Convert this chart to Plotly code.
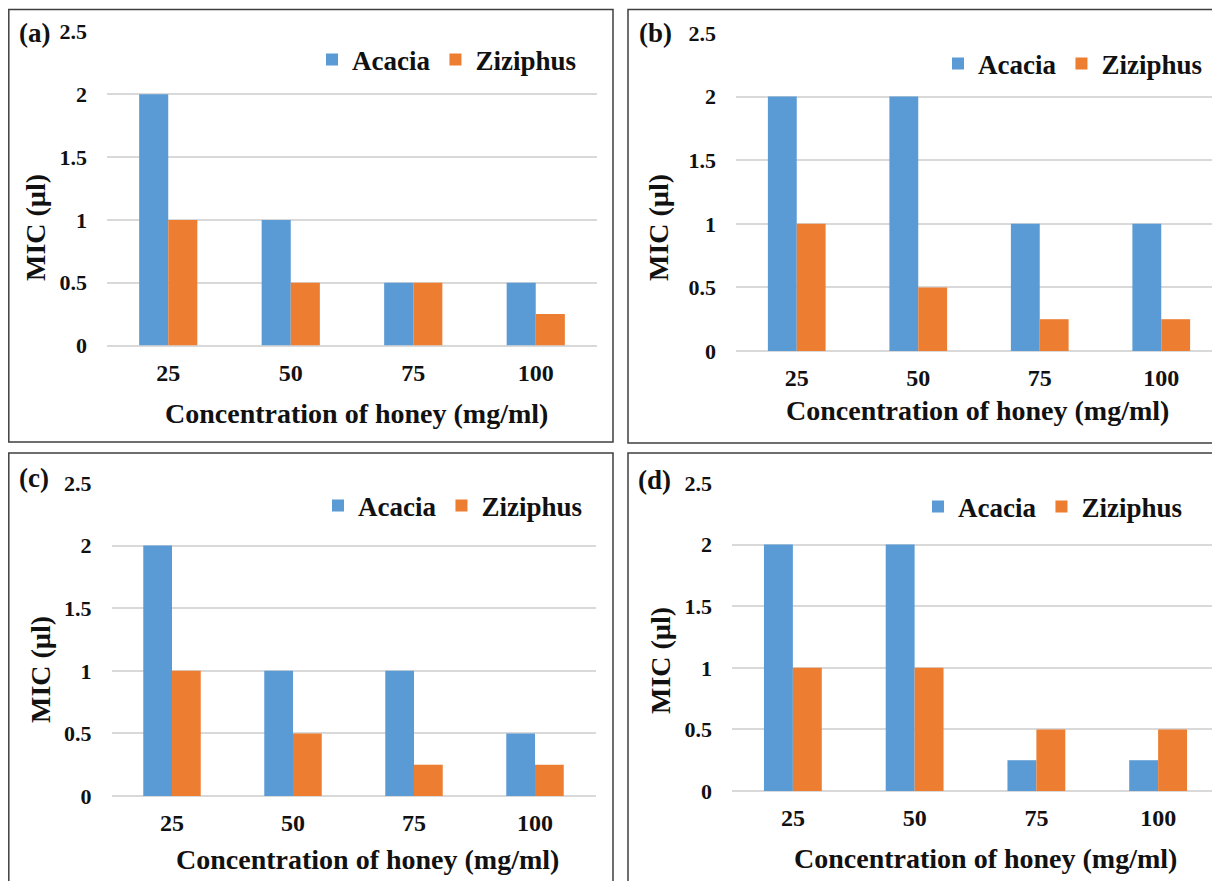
import plotly.graph_objects as go

W, H = 1220, 881
OFF = 8  # default page body margin of the written html

# ---------------- data ----------------
categories = ["25", "50", "75", "100"]
series_names = ["Acacia", "Ziziphus"]

acacia_a = [2, 1, 0.5, 0.5]
ziziphus_a = [1, 0.5, 0.5, 0.25]

acacia_b = [2, 2, 1, 1]
ziziphus_b = [1, 0.5, 0.25, 0.25]

acacia_c = [2, 1, 1, 0.5]
ziziphus_c = [1, 0.5, 0.25, 0.25]

acacia_d = [2, 2, 0.25, 0.25]
ziziphus_d = [1, 1, 0.5, 0.5]

panel_labels = ["(a)", "(b)", "(c)", "(d)"]
y_tick_vals = [0, 0.5, 1, 1.5, 2, 2.5]
y_tick_text = ["0", "0.5", "1", "1.5", "2", "2.5"]
x_title = "Concentration of honey (mg/ml)"
y_title = "MIC (µl)"

# ---------------- style ----------------
BLUE = "#5B9BD5"
ORANGE = "#ED7D31"
GRID = "#D9D9D9"
BORDER = "#3F3F3F"
FONT = "Liberation Serif, Times New Roman, serif"
TXT = "#111111"


def px(x):
    return (x - OFF) / W


def py(y):
    return 1 - (y - OFF) / H


# panel geometry in (screen) pixels
panels = [
    dict(a=acacia_a, z=ziziphus_a, x0=107, x1=597, yt=31.5, yb=345.5,
         box=(8.8, 9.5, 613, 442), lab=(34, 33), yti=(35, 228), xti=(356, 413), leg=(582, 60)),
    dict(a=acacia_b, z=ziziphus_b, x0=736, x1=1222, yt=33, yb=351,
         box=(628, 9.5, 1240, 443), lab=(655, 33), yti=(658, 228), xti=(977, 410), leg=(1208, 64)),
    dict(a=acacia_c, z=ziziphus_c, x0=111.5, x1=595.5, yt=483, yb=796,
         box=(8.8, 453, 613, 900), lab=(34, 478), yti=(40, 670), xti=(367, 859), leg=(588, 506)),
    dict(a=acacia_d, z=ziziphus_d, x0=732, x1=1219, yt=483, yb=791,
         box=(628, 453, 1240, 900), lab=(654, 480), yti=(660, 661), xti=(985, 858), leg=(1188, 507)),
]

fig = go.Figure()
layout = dict(
    template="none",
    width=W, height=H,
    margin=dict(l=0, r=0, t=0, b=0, pad=0, autoexpand=False),
    paper_bgcolor="white", plot_bgcolor="white",
    barmode="group", bargap=0.525, bargroupgap=0,
    font=dict(family=FONT, color=TXT),
    shapes=[], annotations=[],
)

for i, p in enumerate(panels):
    n = "" if i == 0 else str(i + 1)
    xa, ya = "x" + n, "y" + n
    leg = "legend" + n
    fig.add_trace(go.Bar(x=categories, y=p["a"], name=series_names[0], marker_color=BLUE,
                         xaxis=xa, yaxis=ya, legend=leg, marker_line_width=0))
    fig.add_trace(go.Bar(x=categories, y=p["z"], name=series_names[1], marker_color=ORANGE,
                         xaxis=xa, yaxis=ya, legend=leg, marker_line_width=0))
    layout["xaxis" + n] = dict(
        domain=[max(0, px(p["x0"])), min(1, px(p["x1"]))], anchor=ya, type="category",
        range=[-0.5, 3.5] if p["x1"] <= W + OFF else [-0.5, 3.5],
        showgrid=False, showline=False, zeroline=False, automargin=False,
        ticks="", ticklabelstandoff=10,
        tickfont=dict(family=FONT, size=24, color=TXT, weight="bold"),
    )
    layout["yaxis" + n] = dict(
        domain=[py(p["yb"]), py(p["yt"])], anchor=xa, range=[0, 2.5],
        tickvals=y_tick_vals, ticktext=y_tick_text, automargin=False,
        showgrid=True, gridcolor=GRID, gridwidth=1.5,
        zeroline=True, zerolinecolor=GRID, zerolinewidth=1.5,
        showline=False, ticks="", ticklabelstandoff=19,
        tickfont=dict(family=FONT, size=22, color=TXT, weight="bold"),
    )
    layout[leg] = dict(
        orientation="h", xanchor="right", yanchor="middle",
        x=px(p["leg"][0]), y=py(p["leg"][1]),
        bgcolor="rgba(0,0,0,0)", borderwidth=0,
        font=dict(family=FONT, size=27, color=TXT, weight="bold"),
        traceorder="normal", itemclick=False, itemdoubleclick=False,
    )
    bx0, by0, bx1, by1 = p["box"]
    layout["shapes"].append(dict(
        type="rect", xref="paper", yref="paper",
        x0=px(bx0), x1=px(bx1), y0=py(by1), y1=py(by0),
        line=dict(color=BORDER, width=1.5), fillcolor="rgba(0,0,0,0)", layer="above",
    ))
    layout["annotations"] += [
        dict(text=panel_labels[i], xref="paper", yref="paper",
             x=px(p["lab"][0]), y=py(p["lab"][1]), xanchor="center", yanchor="middle",
             showarrow=False, font=dict(family=FONT, size=27, color=TXT, weight="bold")),
        dict(text=y_title, xref="paper", yref="paper", textangle=-90,
             x=px(p["yti"][0]), y=py(p["yti"][1]), xanchor="center", yanchor="middle",
             showarrow=False, font=dict(family=FONT, size=28, color=TXT, weight="bold")),
        dict(text=x_title, xref="paper", yref="paper",
             x=px(p["xti"][0]), y=py(p["xti"][1]), xanchor="center", yanchor="middle",
             showarrow=False, font=dict(family=FONT, size=28, color=TXT, weight="bold")),
    ]

fig.update_layout(**layout)
fig.write_html("out.html")
